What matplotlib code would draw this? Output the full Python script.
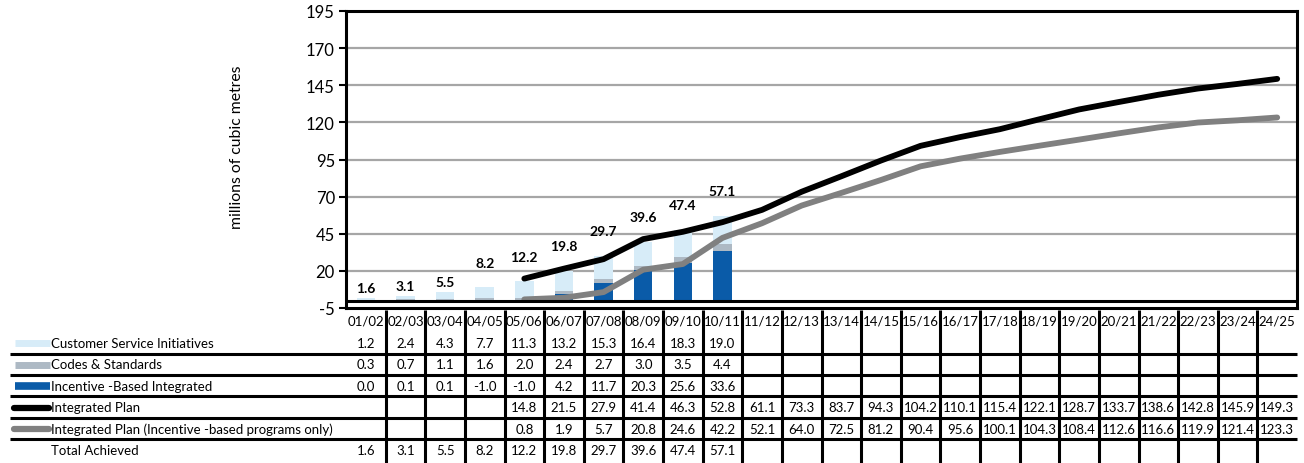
import matplotlib
matplotlib.use("Agg")
import matplotlib.pyplot as plt
import matplotlib.transforms as mtransforms
import numpy as np

plt.rcParams["font.family"] = ["Lato", "DejaVu Sans"]
plt.rcParams["axes.unicode_minus"] = False

years = ["01/02", "02/03", "03/04", "04/05", "05/06", "06/07", "07/08", "08/09",
         "09/10", "10/11", "11/12", "12/13", "13/14", "14/15", "15/16", "16/17",
         "17/18", "18/19", "19/20", "20/21", "21/22", "22/23", "23/24", "24/25"]

# achieved, 01/02 .. 10/11
customer = [1.2, 2.4, 4.3, 7.7, 11.3, 13.2, 15.3, 16.4, 18.3, 19.0]
codes = [0.3, 0.7, 1.1, 1.6, 2.0, 2.4, 2.7, 3.0, 3.5, 4.4]
incentive = [0.0, 0.1, 0.1, -1.0, -1.0, 4.2, 11.7, 20.3, 25.6, 33.6]
total = [1.6, 3.1, 5.5, 8.2, 12.2, 19.8, 29.7, 39.6, 47.4, 57.1]

# plans, 05/06 .. 24/25
plan = [14.8, 21.5, 27.9, 41.4, 46.3, 52.8, 61.1, 73.3, 83.7, 94.3, 104.2,
        110.1, 115.4, 122.1, 128.7, 133.7, 138.6, 142.8, 145.9, 149.3]
plan_ib = [0.8, 1.9, 5.7, 20.8, 24.6, 42.2, 52.1, 64.0, 72.5, 81.2, 90.4,
           95.6, 100.1, 104.3, 108.4, 112.6, 116.6, 119.9, 121.4, 123.3]

c_cust = "#d7ecf8"
c_codes = "#adb9c4"
c_inc = "#0a5ba8"
c_plan = "#000000"
c_plan_ib = "#808080"

W, H = 1304, 464
fig = plt.figure(figsize=(W / 100, H / 100), dpi=100)
ax = fig.add_axes([346 / W, 1 - 309 / H, (1297 - 346) / W, (309 - 12) / H])

n_act = len(total)
x_act = np.arange(n_act)
x_plan = np.arange(len(years) - len(plan), len(years))

inc = np.array(incentive)
cod = np.array(codes)
base_codes = np.clip(inc, 0, None)
ax.bar(x_act, inc, width=0.47, color=c_inc, zorder=2)
ax.bar(x_act, cod, width=0.47, bottom=base_codes, color=c_codes, zorder=2)
ax.bar(x_act, customer, width=0.47, bottom=base_codes + cod, color=c_cust, zorder=2)

ax.plot(x_plan, plan, color=c_plan, lw=4.2, solid_capstyle="round", zorder=4)
ax.plot(x_plan, plan_ib, color=c_plan_ib, lw=4.2, solid_capstyle="round", zorder=3)

for i, t in enumerate(total):
    pad = 7 if i < 3 else 17
    ax.text(i, t + pad, f"{t:.1f}", ha="center", va="center",
            fontsize=10, fontweight="bold", zorder=5)

ax.set_xlim(-0.5, len(years) - 0.5)
ax.set_ylim(-5, 195)
ax.set_yticks(np.arange(-5, 196, 25))
ax.set_xticks([])
ax.tick_params(axis="y", labelsize=12, length=5, width=1.5, pad=3)
ax.set_ylabel("millions of cubic metres", fontsize=11.3)
ax.yaxis.set_label_coords(-0.107, 0.545)
for y in np.arange(20, 171, 25):
    ax.axhline(y, color="#a6a6a6", lw=1.6, zorder=1)
ax.axhline(0, color="black", lw=2.2, zorder=3)
for s in ax.spines.values():
    s.set_linewidth(2.2)

# data table under the plot, drawn in pixel coordinates
tab = fig.add_axes([0, 0, 1, 1], zorder=-1)
tab.set_xlim(0, W)
tab.set_ylim(H, 0)
tab.axis("off")
bt = mtransforms.blended_transform_factory(ax.transData, tab.transData)

row_y = [344, 365.5, 387, 408.5, 430, 451]
sep_y = [354.5, 375.8, 397, 418.5, 440]
x_right = ax.transData.transform((len(years) - 0.5, 0))[0]

for i, yr in enumerate(years):
    tab.text(i, 322, yr, transform=bt, ha="center", va="center", fontsize=9.5)
for i in range(len(years) - 1):
    tab.plot([i + 0.5, i + 0.5], [311, H], transform=bt, color="black", lw=2.2,
             solid_capstyle="butt")
for y in sep_y:
    tab.plot([10, x_right], [y, y], color="black", lw=2.2, solid_capstyle="butt")

rows = [
    ("Customer Service Initiatives", customer, 0),
    ("Codes & Standards", codes, 0),
    ("Incentive -Based Integrated", incentive, 0),
    ("Integrated Plan", plan, x_plan[0]),
    ("Integrated Plan (Incentive -based programs only)", plan_ib, x_plan[0]),
    ("Total Achieved", total, 0),
]
for (label, vals, start), y in zip(rows, row_y):
    tab.text(51, y, label, ha="left", va="center", fontsize=9.5)
    for j, v in enumerate(vals):
        tab.text(start + j, y, f"{v:.1f}", transform=bt, ha="center",
                 va="center", fontsize=9.5)

# legend keys
tab.plot([15, 50], [row_y[0], row_y[0]], color=c_cust, lw=5, solid_capstyle="butt")
tab.plot([15, 50], [row_y[1], row_y[1]], color=c_codes, lw=5, solid_capstyle="butt")
tab.plot([15, 50], [row_y[2], row_y[2]], color=c_inc, lw=5.5, solid_capstyle="butt")
tab.plot([14, 49], [row_y[3], row_y[3]], color=c_plan, lw=4.5, solid_capstyle="round")
tab.plot([14, 49], [row_y[4], row_y[4]], color=c_plan_ib, lw=4.5, solid_capstyle="round")

fig.savefig("out.png", dpi=100)
